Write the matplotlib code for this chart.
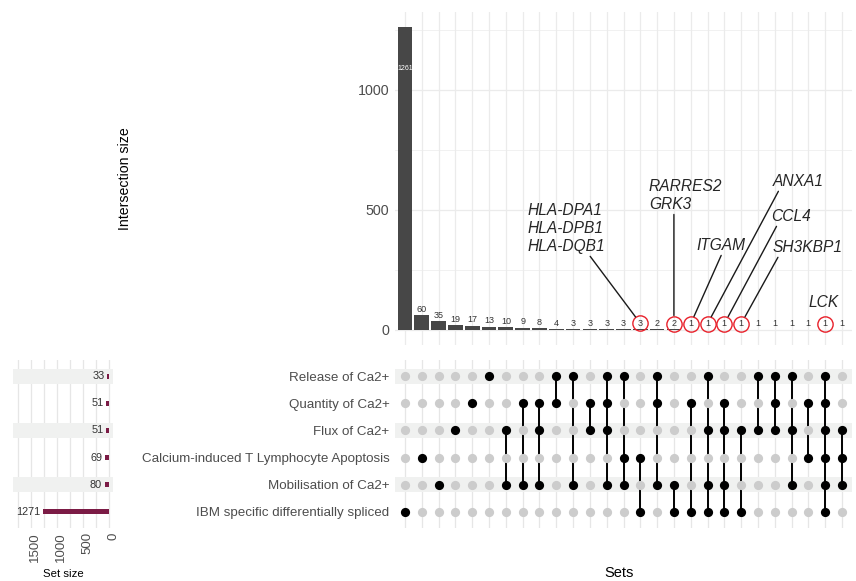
#Import libraries
import matplotlib
matplotlib.use('Agg')
import matplotlib.pyplot as plt
import matplotlib.transforms as mtransforms

plt.rcParams['font.family'] = ['Liberation Sans', 'DejaVu Sans']

#Sets (matrix rows, top to bottom) and their sizes
sets = ['Release of Ca2+', 'Quantity of Ca2+', 'Flux of Ca2+',
        'Calcium-induced T Lymphocyte Apoptosis', 'Mobilisation of Ca2+',
        'IBM specific differentially spliced']
set_sizes = [33, 51, 51, 69, 80, 1271]

#Intersections: member rows and sizes
members = [[5], [3], [4], [2], [1], [0], [2, 4], [1, 4], [1, 2, 4], [0, 1],
           [0, 4], [1, 2], [0, 1, 2, 4], [0, 3, 4], [3, 5], [0, 1, 4], [4, 5],
           [1, 5], [0, 2, 4, 5], [1, 2, 4, 5], [2, 5], [0, 2], [0, 1, 2],
           [0, 2, 4], [1, 3], [0, 1, 2, 3, 4, 5], [2, 3, 4]]
counts = [1261, 60, 35, 19, 17, 13, 10, 9, 8, 4, 3, 3, 3, 3, 3, 2, 2,
          1, 1, 1, 1, 1, 1, 1, 1, 1, 1]

#Highlighted intersections with gene labels
hl_cols = [14, 16, 17, 18, 19, 20, 25]
hl_genes = ['HLA-DPA1\nHLA-DPB1\nHLA-DQB1', 'RARRES2\nGRK3', 'ITGAM',
            'ANXA1', 'CCL4', 'SH3KBP1', 'LCK']
#where the repelled labels sit (x in columns, y in intersection size)
hl_text_x = [9.6, 16.7, 18.8, 23.4, 23.0, 23.95, 24.94]
hl_text_y = [424, 561, 353, 620, 474, 345, 112]
hl_segment = [True, True, True, True, True, True, False]
#point of the label box where its segment starts
hl_relpos = [(0.78, 0), (0.34, 0), (0.53, 0), (0.14, 0), (0.16, 0), (0.1, 0), (0.5, 0)]

n = len(counts)
cols = list(range(n))
rows = list(range(len(sets)))

bar_col = '#474747'
size_col = '#7b1b45'
band_col = '#f0f1f0'
grid_col = '#ebebeb'
text_col = '#4d4d4d'

fig = plt.figure(figsize=(8.56, 5.81), dpi=100)
W, H = 856.0, 581.0
ax_top = fig.add_axes([395 / W, 1 - 345 / H, 457 / W, 333 / H])
ax_mat = fig.add_axes([395 / W, 1 - 528 / H, 457 / W, 168 / H])
ax_size = fig.add_axes([13 / W, 1 - 528 / H, 100 / W, 168 / H])

#Intersection size bars
ax_top.set_axisbelow(True)
ax_top.bar(cols, counts, width=0.88, color=bar_col, zorder=2)
ax_top.set_xlim(-0.6, n - 0.4)
ax_top.set_ylim(-63, 1324)
ax_top.set_xticks(cols)
ax_top.set_xticklabels([])
ax_top.set_yticks([0, 500, 1000])
ax_top.set_yticks([250, 750, 1250], minor=True)
ax_top.tick_params(which='both', length=0)
ax_top.tick_params(axis='y', labelsize=10.3, labelcolor=text_col, pad=4)
ax_top.grid(which='major', color=grid_col, lw=0.9)
ax_top.grid(which='minor', axis='y', color=grid_col, lw=0.5)
for s in ax_top.spines.values():
    s.set_visible(False)
ax_top.set_ylabel('Intersection size', fontsize=10.2)
ax_top.yaxis.set_label_coords((132 - 395) / 457, 0.5)

label_off = 4.2
for i, c in enumerate(counts):
    if i == 0:
        ax_top.annotate(str(c), (i, c), xytext=(0, -30), textcoords='offset points',
                        ha='center', va='center', fontsize=5, color='white', zorder=3)
    else:
        ax_top.annotate(str(c), (i, c), xytext=(0, label_off), textcoords='offset points',
                        ha='center', va='center', fontsize=6.5, color='#333333', zorder=3)

#Red circles and gene labels
circ_tr = mtransforms.offset_copy(ax_top.transData, fig=fig, x=0, y=label_off, units='points')
for k, i in enumerate(hl_cols):
    ax_top.plot([i], [counts[i]], marker='o', ms=11, mfc='none', mec='#e8202a',
                mew=1.0, transform=circ_tr, zorder=4, clip_on=False)
    props = None
    if hl_segment[k]:
        props = dict(arrowstyle='-', color='#1a1a1a', lw=1.0, shrinkA=0, shrinkB=5.8,
                     relpos=hl_relpos[k])
    ax_top.annotate(hl_genes[k], xy=(i, counts[i]), xycoords=circ_tr,
                    xytext=(hl_text_x[k], hl_text_y[k]), textcoords='data',
                    ha='center', va='center', multialignment='left', fontsize=11.2,
                    style='italic', color='#262626', linespacing=1.25,
                    arrowprops=props, zorder=5)

#Matrix
ax_mat.set_axisbelow(True)
for r in rows:
    if r % 2 == 0:
        ax_mat.axhspan(r - 0.28, r + 0.28, color=band_col, zorder=1, lw=0)
for i in cols:
    grey_rows = [r for r in rows if r not in members[i]]
    ax_mat.scatter([i] * len(grey_rows), grey_rows, s=44, color='#cccccc', zorder=3, lw=0)
    if len(members[i]) > 1:
        ax_mat.plot([i, i], [min(members[i]), max(members[i])], color='black', lw=1.4, zorder=2.5)
    ax_mat.scatter([i] * len(members[i]), members[i], s=44, color='black', zorder=4, lw=0)
ax_mat.set_xlim(-0.6, n - 0.4)
ax_mat.set_ylim(len(sets) - 0.4, -0.6)
ax_mat.set_xticks(cols)
ax_mat.set_xticklabels([])
ax_mat.set_yticks(rows)
ax_mat.set_yticklabels(sets)
ax_mat.tick_params(length=0)
ax_mat.tick_params(axis='y', labelsize=9.6, labelcolor=text_col, pad=4)
ax_mat.grid(axis='x', color='#e6e6e6', lw=0.9)
for s in ax_mat.spines.values():
    s.set_visible(False)

#Set size bars
ax_size.set_axisbelow(True)
for r in rows:
    if r % 2 == 0:
        ax_size.axhspan(r - 0.28, r + 0.28, color=band_col, zorder=1, lw=0)
ax_size.barh(rows, set_sizes, height=0.2, color=size_col, zorder=2)
for r, s in zip(rows, set_sizes):
    ax_size.annotate(str(s), (s, r), xytext=(-2, 0), textcoords='offset points',
                     ha='right', va='center', fontsize=7.8, color='#333333', zorder=3)
ax_size.set_xlim(1846, -77)
ax_size.set_ylim(len(sets) - 0.4, -0.6)
ax_size.set_xticks([0, 500, 1000, 1500])
ax_size.set_xticks([250, 750, 1250, 1750], minor=True)
ax_size.set_yticks([])
ax_size.tick_params(which='both', length=0)
ax_size.tick_params(axis='x', labelsize=9.5, labelcolor=text_col, labelrotation=90, pad=3)
ax_size.grid(which='both', axis='x', color='#e6e6e6', lw=0.9)
for s in ax_size.spines.values():
    s.set_visible(False)
shift = mtransforms.ScaledTranslation(3 / 72, 0, fig.dpi_scale_trans)
for lab in ax_size.get_xticklabels():
    lab.set_transform(lab.get_transform() + shift)

fig.text(63 / W, 1 - 574 / H, 'Set size', ha='center', va='center', fontsize=8.2)
fig.text(619 / W, 1 - 573 / H, 'Sets', ha='center', va='center', fontsize=10.5)

#Save the figure
fig.savefig('out.png', dpi=100)
